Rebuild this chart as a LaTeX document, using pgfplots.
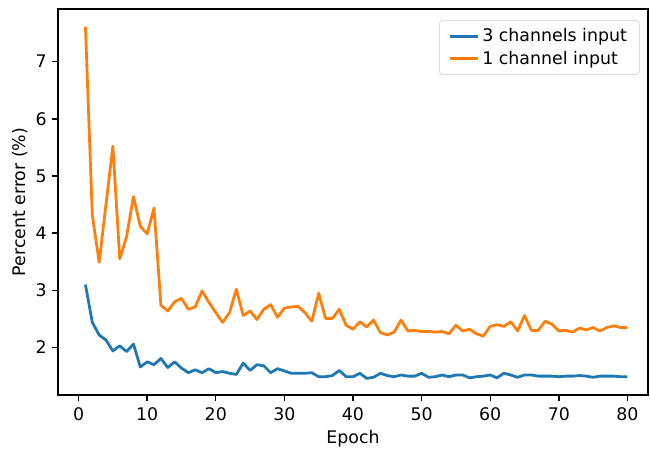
\documentclass[border=0pt]{standalone}
\usepackage{pgfplots}
\pgfplotsset{compat=1.18}
\usepackage{pgfplotstable}
\usepackage{fontspec}
\setmainfont{DejaVu Sans}
\definecolor{tabblue}{HTML}{1F77B4}
\definecolor{taborange}{HTML}{FF7F0E}
\pgfplotstableread{
ep val
1 3.10
2 2.44
3 2.22
4 2.13
5 1.94
6 2.03
7 1.93
8 2.06
9 1.66
10 1.75
11 1.70
12 1.81
13 1.65
14 1.75
15 1.64
16 1.56
17 1.61
18 1.56
19 1.63
20 1.56
21 1.58
22 1.55
23 1.53
24 1.73
25 1.60
26 1.70
27 1.68
28 1.56
29 1.63
30 1.59
31 1.55
32 1.55
33 1.55
34 1.56
35 1.49
36 1.49
37 1.51
38 1.60
39 1.49
40 1.49
41 1.55
42 1.46
43 1.48
44 1.55
45 1.51
46 1.49
47 1.52
48 1.50
49 1.50
50 1.55
51 1.48
52 1.49
53 1.52
54 1.49
55 1.52
56 1.52
57 1.47
58 1.49
59 1.50
60 1.52
61 1.47
62 1.55
63 1.52
64 1.48
65 1.52
66 1.52
67 1.50
68 1.50
69 1.50
70 1.49
71 1.50
72 1.50
73 1.51
74 1.50
75 1.48
76 1.50
77 1.50
78 1.50
79 1.49
80 1.49
}\threech
\pgfplotstableread{
ep val
1 7.61
2 4.32
3 3.49
4 4.51
5 5.52
6 3.55
7 3.94
8 4.64
9 4.12
10 3.99
11 4.44
12 2.74
13 2.64
14 2.80
15 2.86
16 2.67
17 2.71
18 2.99
19 2.79
20 2.61
21 2.44
22 2.61
23 3.02
24 2.56
25 2.64
26 2.49
27 2.67
28 2.75
29 2.53
30 2.69
31 2.71
32 2.72
33 2.61
34 2.46
35 2.95
36 2.51
37 2.51
38 2.67
39 2.39
40 2.32
41 2.45
42 2.36
43 2.48
44 2.26
45 2.22
46 2.27
47 2.48
48 2.29
49 2.30
50 2.28
51 2.28
52 2.27
53 2.28
54 2.24
55 2.39
56 2.29
57 2.32
58 2.24
59 2.20
60 2.37
61 2.40
62 2.37
63 2.45
64 2.29
65 2.56
66 2.30
67 2.30
68 2.46
69 2.41
70 2.29
71 2.30
72 2.27
73 2.34
74 2.31
75 2.35
76 2.29
77 2.35
78 2.38
79 2.35
80 2.35
}\onech
\begin{document}
\begin{tikzpicture}
\begin{axis}[
  at={(0,0)}, anchor=south west,
  scale only axis,
  width=424.8pt, height=277.9pt,
  xmin=-3, xmax=83,
  ymin=1.17, ymax=7.92,
  xtick={0,10,...,80},
  ytick={2,3,4,5,6,7},
  tick align=outside,
  tick pos=left,
  major tick length=4.6pt,
  every tick/.style={line width=1pt, black},
  axis line style={line width=1pt},
  /pgf/number format/assume math mode=true,
  ticklabel style={font=\fontsize{12.5}{15}\selectfont},
  xticklabel style={yshift=-1pt},
  label style={font=\fontsize{12.5}{15}\selectfont},
  xlabel={Epoch},
  ylabel={Percent error (\%)},
  xlabel style={yshift=0pt},
  ylabel style={yshift=-1pt},
  legend cell align=left,
  legend style={
    at={([xshift=-6pt,yshift=-8pt]rel axis cs:1,1)}, anchor=north east,
    draw=black!20, rounded corners=2.5pt,
    font=\fontsize{12.5}{15}\selectfont,
    inner xsep=7pt, inner ysep=4pt,
    row sep=1pt,
  },
  legend image code/.code={\draw[#1, line width=2pt] (0pt,0pt) -- (20pt,0pt);},
]
\addplot[color=tabblue, line width=2pt, line join=round] table[x=ep,y=val] {\threech};
\addlegendentry{3 channels input}
\addplot[color=taborange, line width=2pt, line join=round] table[x=ep,y=val] {\onech};
\addlegendentry{1 channel input}
\end{axis}
\path[use as bounding box] (-41.76pt,-40.32pt) rectangle (426.24pt,284.4pt);
\end{tikzpicture}
\end{document}
